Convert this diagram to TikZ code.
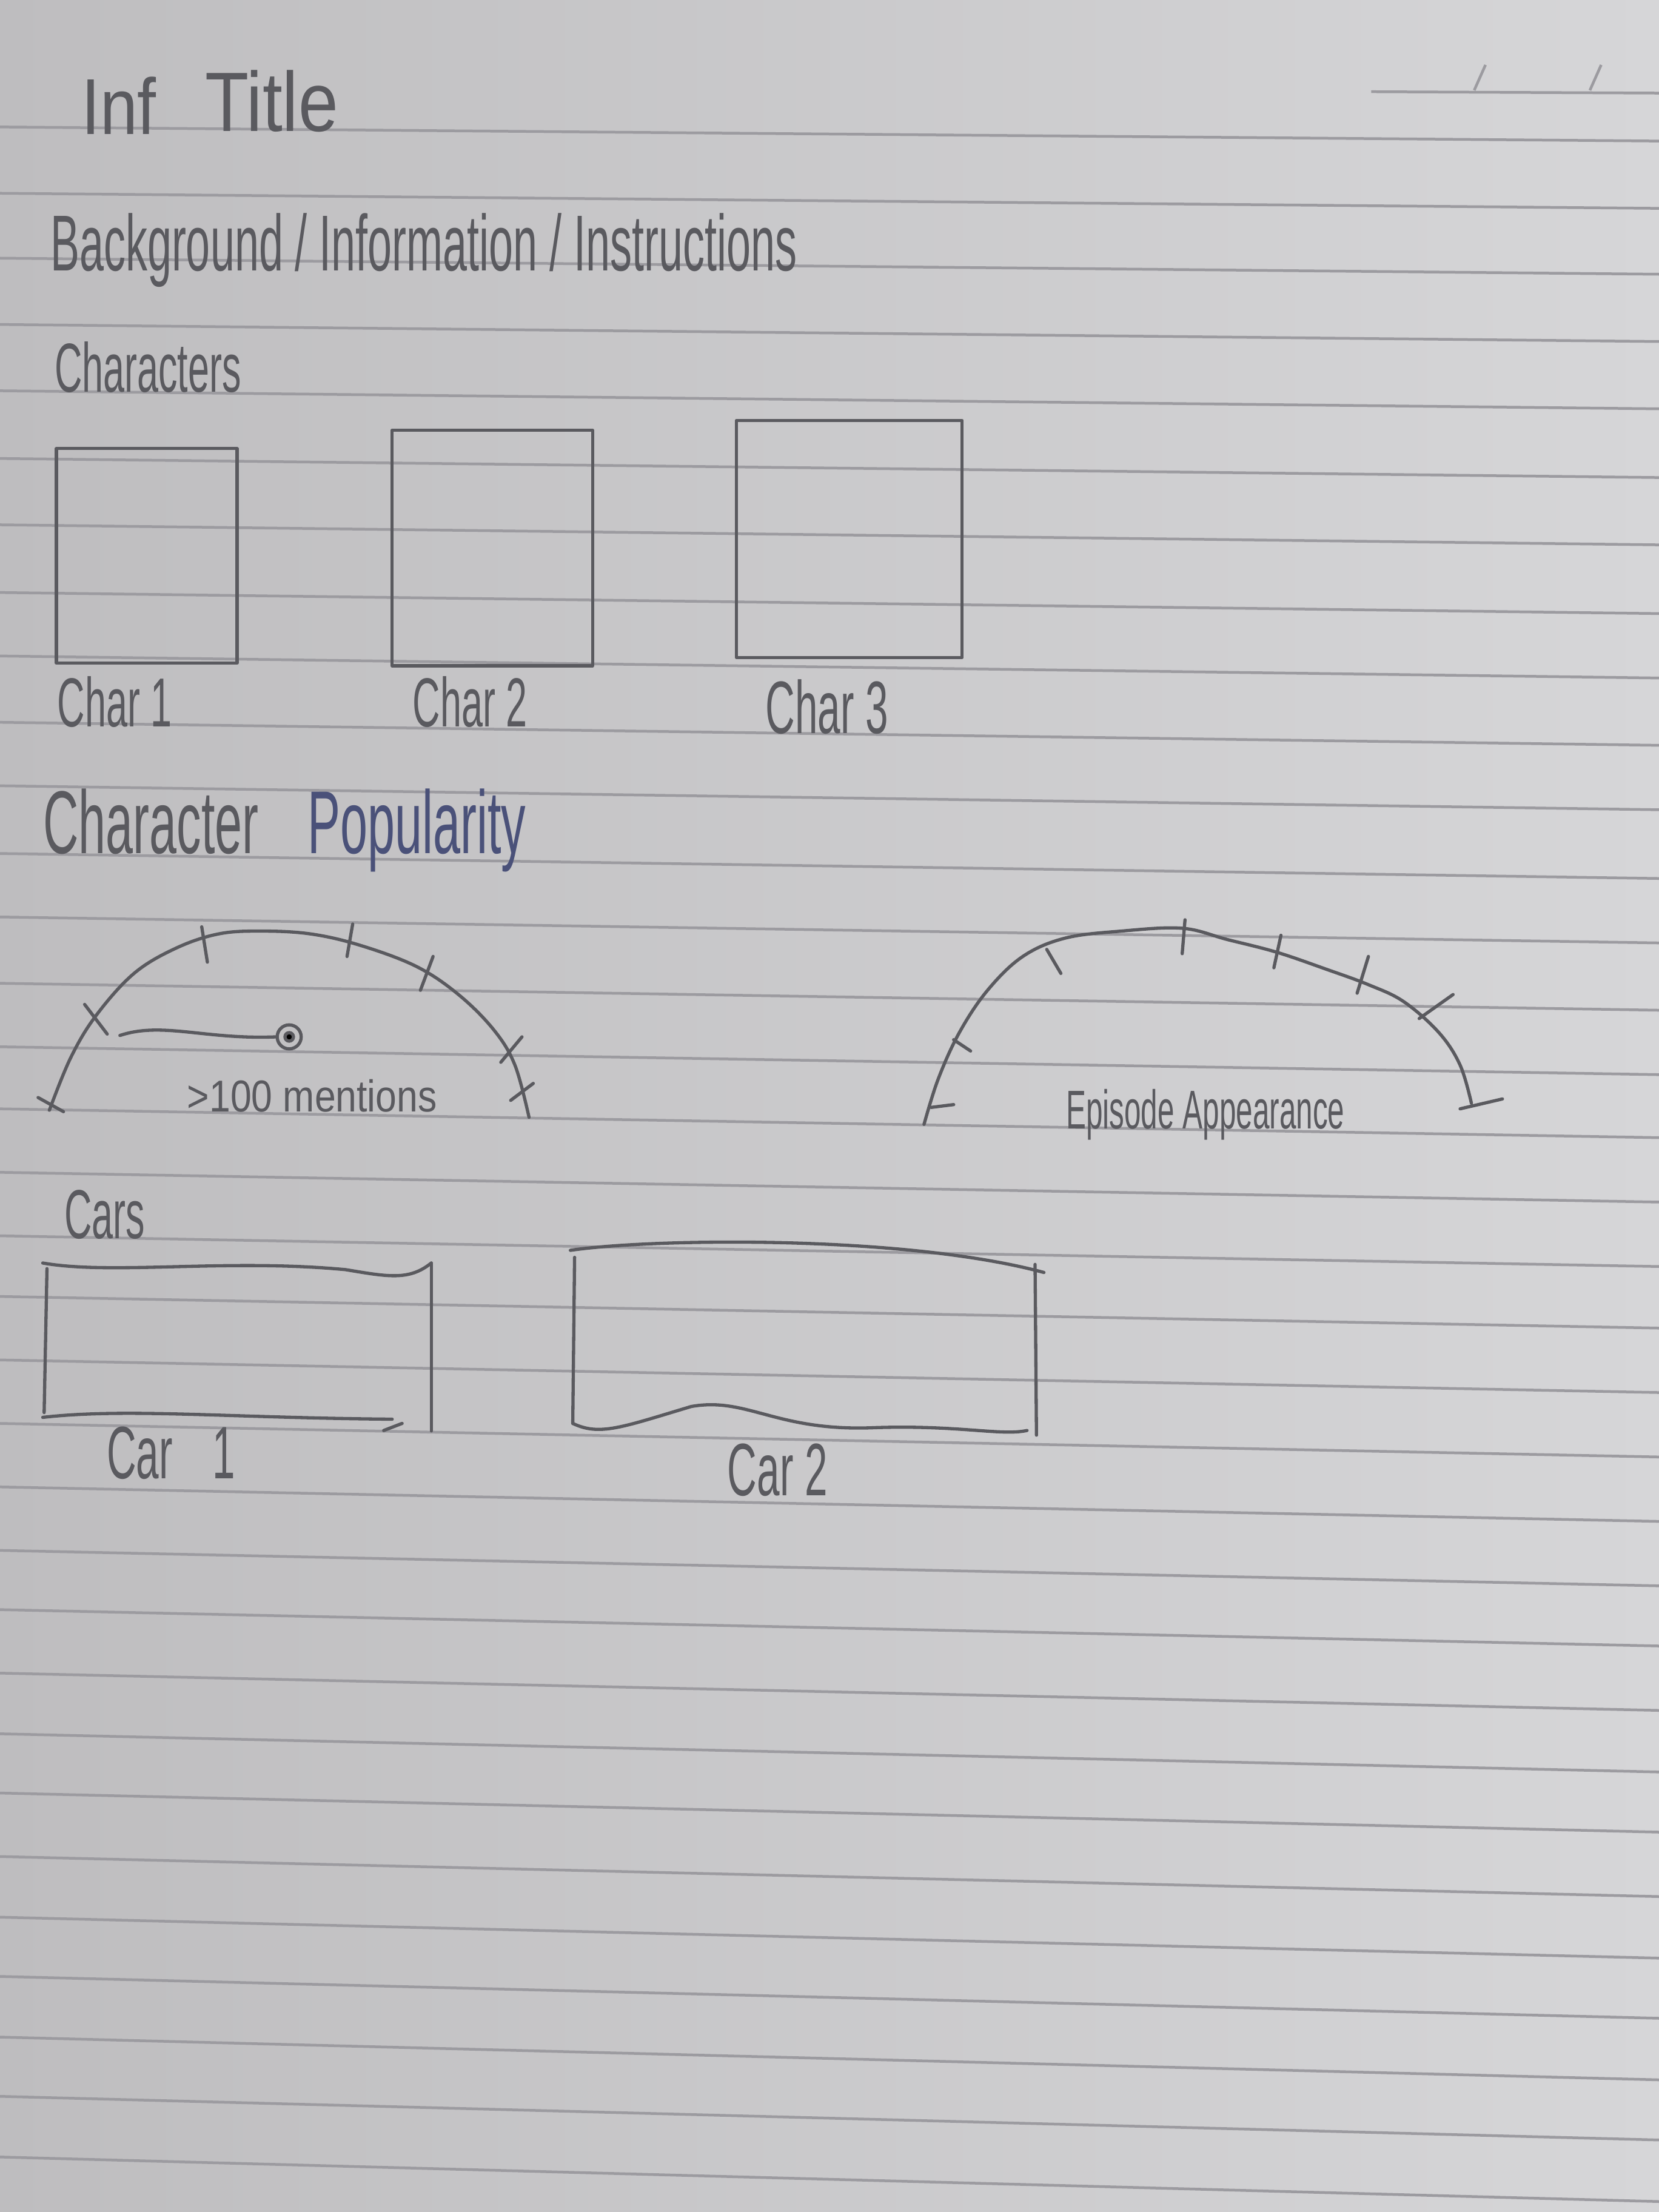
\documentclass[tikz,border=0pt]{standalone}
\usepackage{fontspec}
\usepackage{xcolor}
\usepackage{tikz}
\usetikzlibrary{positioning, calc}
\setmainfont{Liberation Sans}
\newfontfamily\handfont[FakeStretch=0.55]{Liberation Sans}
\newfontfamily\handwide[FakeStretch=0.85]{Liberation Sans}
\definecolor{paperdark}{HTML}{BEBDBF}
\definecolor{paperlight}{HTML}{D6D6D8}
\definecolor{ruling}{HTML}{9C9BA0}
\definecolor{pencil}{HTML}{5A5A5F}
\definecolor{inkblue}{HTML}{4A5179}

\tikzset{
  pencil/.style={draw=pencil, line width=0.65pt, line cap=round, line join=round},
  sketchbox/.style={pencil, inner sep=0pt},
  hand/.style={text=pencil, inner sep=0pt, anchor=base west},
  ruled/.style={draw=ruling, line width=0.55pt},
}

\begin{document}
\begin{tikzpicture}[x=1cm, y=-1cm]

%% Paper
\shade[left color=paperdark, right color=paperlight] (0,0) rectangle (11.76,15.68);
\useasboundingbox (0,0) rectangle (11.76,15.68);
\foreach \y in {0.90,1.37,1.83,2.30,2.77,3.25,3.72,4.20,4.65,5.12,5.57,6.05,6.50,6.97,7.42,
                7.86,8.31,8.76,9.19,9.64,10.09,10.54,10.99,11.41,11.86,12.29,12.71,13.16,
                13.59,14.01,14.44,14.86,15.29}
  \draw[ruled] (0,\y) -- (11.76,{\y+0.10+0.015*(\y-0.90)});
%% date field top right
\draw[ruled] (9.72,0.65) -- (11.76,0.66);
\draw[ruled] (10.45,0.64) -- (10.53,0.46);
\draw[ruled] (11.27,0.64) -- (11.35,0.46);

%% ── Heading ─────────────────────────────────────────────────────────────
\node[hand, font=\handwide\fontsize{16}{18}\selectfont] (infotag) at (0.57,0.95) {Inf};
\node[hand, font=\handwide\fontsize{17}{19}\selectfont] (title) at (1.45,0.93) {Title};
\node[hand, font=\handfont\fontsize{16}{18}\selectfont] (intro) at (0.35,1.92)
  {Background / Information / Instructions};

%% ── Characters ──────────────────────────────────────────────────────────
\node[hand, font=\handfont\fontsize{14}{16}\selectfont] (charhead) at (0.38,2.78) {Characters};

\node[sketchbox, minimum width=1.28cm, minimum height=1.52cm] (char1) at (1.04,3.94) {};
\node[sketchbox, minimum width=1.42cm, minimum height=1.67cm] (char2) at (3.49,3.885) {};
\node[sketchbox, minimum width=1.60cm, minimum height=1.68cm] (char3) at (6.02,3.82) {};

\node[hand, font=\handfont\fontsize{14}{16}\selectfont] (char1lbl) at (0.40,5.15) {Char 1};
\node[hand, font=\handfont\fontsize{14}{16}\selectfont] (char2lbl) at (2.92,5.15) {Char 2};
\node[hand, font=\handfont\fontsize{15}{17}\selectfont] (char3lbl) at (5.42,5.20) {Char 3};

%% ── Character Popularity ────────────────────────────────────────────────
\node[hand, font=\handfont\fontsize{18}{20}\selectfont] (pophead) at (0.30,6.05)
  {Character\hspace*{0.25cm} \textcolor{inkblue}{Popularity}};

%% gauge: mentions
\draw[pencil] plot[smooth, tension=0.6] coordinates {(0.35,7.87) (0.50,7.50) (0.68,7.20)
  (0.95,6.90) (1.25,6.72) (1.55,6.62) (1.85,6.60) (2.20,6.62) (2.55,6.70) (2.95,6.85)
  (3.25,7.05) (3.50,7.30) (3.65,7.55) (3.75,7.92)};
\draw[pencil] (0.27,7.78) -- (0.45,7.88);
\draw[pencil] (0.60,7.12) -- (0.76,7.33);
\draw[pencil] (1.43,6.57) -- (1.47,6.82);
\draw[pencil] (2.50,6.55) -- (2.46,6.78);
\draw[pencil] (3.07,6.78) -- (2.98,7.02);
\draw[pencil] (3.70,7.35) -- (3.55,7.53);
\draw[pencil] (3.78,7.68) -- (3.62,7.80);
\coordinate (needle1) at (0.85,7.34);
\node[pencil, circle, draw, minimum size=0.17cm, inner sep=0pt] (pivot1) at (2.05,7.35) {};
\fill[pencil] (pivot1.center) circle (0.03);
\draw[pencil] (needle1) .. controls (1.15,7.24) and (1.45,7.37) .. (pivot1.west);
\node[hand, font=\handwide\fontsize{9}{11}\selectfont] (mentions) at (1.32,7.88) {>100 mentions};

%% gauge: episodes
\draw[pencil] plot[smooth, tension=0.6] coordinates {(6.55,7.97) (6.65,7.65) (6.80,7.32)
  (7.00,7.02) (7.25,6.78) (7.55,6.65) (7.95,6.60) (8.38,6.58) (8.70,6.66) (9.05,6.75)
  (9.40,6.87) (9.70,6.98) (9.95,7.10) (10.20,7.32) (10.35,7.55) (10.43,7.82)};
\draw[pencil] (6.60,7.85) -- (6.76,7.83);
\draw[pencil] (6.76,7.37) -- (6.88,7.45);
\draw[pencil] (7.42,6.73) -- (7.52,6.90);
\draw[pencil] (8.40,6.52) -- (8.38,6.76);
\draw[pencil] (9.08,6.63) -- (9.03,6.86);
\draw[pencil] (9.70,6.78) -- (9.62,7.04);
\draw[pencil] (10.06,7.22) -- (10.30,7.05);
\draw[pencil] (10.35,7.86) -- (10.65,7.79);
\node[hand, font=\handfont\fontsize{11}{13}\selectfont] (episodes) at (7.55,8.00) {Episode Appearance};

%% ── Cars ────────────────────────────────────────────────────────────────
\node[hand, font=\handfont\fontsize{14}{16}\selectfont] (carhead) at (0.45,8.78) {Cars};

\node[minimum width=2.74cm, minimum height=1.08cm, inner sep=0pt] (car1) at (1.68,9.50) {};
\draw[pencil] (car1.north west) .. controls (0.80,9.04) and (1.60,8.92) .. (2.45,9.00)
  .. controls (2.75,9.05) and (2.90,9.08) .. (car1.north east);
\draw[pencil] (car1.north west) ++(0.03,0.04) -- ++(-0.02,1.02);
\draw[pencil] (car1.north east) -- ++(0,1.19);
\draw[pencil] (car1.south west) .. controls (0.90,9.98) and (1.60,10.05) .. (2.78,10.06);
\draw[pencil] (2.72,10.14) -- (2.85,10.09);
\node[hand, font=\handfont\fontsize{15}{17}\selectfont] (car1lbl) at (0.75,10.48) {Car\hspace*{0.2cm} 1};

\node[minimum width=3.30cm, minimum height=1.24cm, inner sep=0pt] (car2) at (5.70,9.49) {};
\draw[pencil] (car2.north west) .. controls (4.60,8.78) and (6.40,8.75) .. (7.40,9.02);
\draw[pencil] (car2.north west) ++(0.03,0.05) -- (4.06,10.09);
\draw[pencil] (car2.north east) ++(-0.02,0.10) -- ++(0.01,1.21);
\draw[pencil] (4.06,10.09) .. controls (4.25,10.18) and (4.40,10.12) .. (4.90,9.97)
  .. controls (5.30,9.90) and (5.50,10.15) .. (6.20,10.12)
  .. controls (6.80,10.10) and (7.10,10.18) .. (7.28,10.14);
\node[hand, font=\handfont\fontsize{15}{17}\selectfont] (car2lbl) at (5.15,10.60) {Car 2};

\end{tikzpicture}
\end{document}
